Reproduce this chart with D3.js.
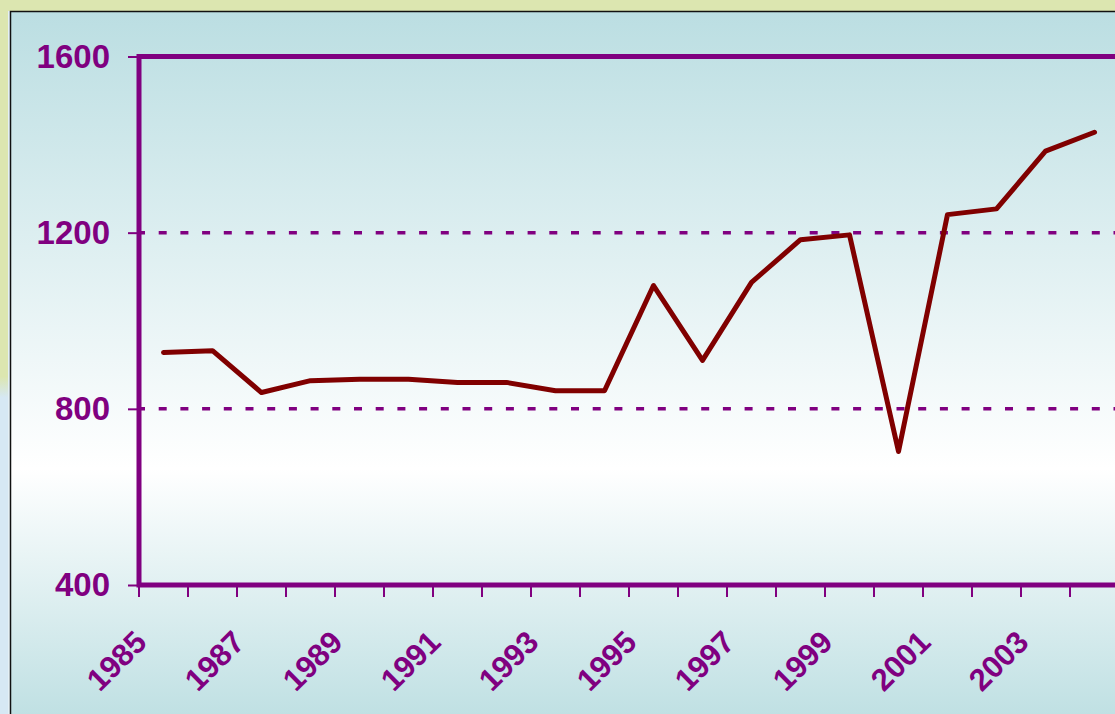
<!DOCTYPE html>
<html>
<head>
<meta charset="utf-8">
<script src="https://cdn.jsdelivr.net/npm/d3@7"></script>
<style>
  html, body { margin: 0; padding: 0; background: #dce6b0; overflow: hidden; }
  svg { display: block; }
  text { font-family: "Liberation Sans", Arial, sans-serif; font-weight: bold; fill: #800080; }
</style>
</head>
<body>
<div id="plot"></div>
<script>
// data
var years = ['1985','1986','1987','1988','1989','1990','1991','1992','1993','1994',
             '1995','1996','1997','1998','1999','2000','2001','2002','2003','2004'];
var values = [928, 932, 837, 864, 867, 867, 860, 860, 841, 841,
              1080, 910, 1087, 1184, 1195, 703, 1241, 1254, 1385, 1428];
var yTicks = [400, 800, 1200, 1600];
var gridValues = [800, 1200];
var xLabels = ['1985','1987','1989','1991','1993','1995','1997','1999','2001','2003'];

var W = 1115, H = 714;
var margin = {top: 56.5, left: 139};
var width = 980,
    height = 585 - margin.top;

var purple = '#800080';

var svg = d3.select('#plot').append('svg')
    .attr('width', W)
    .attr('height', H);

// slide background behind the chart
var defs = svg.append('defs');
var bg = defs.append('linearGradient')
    .attr('id', 'bg')
    .attr('x1', 0).attr('y1', 0).attr('x2', 0).attr('y2', 1);
bg.append('stop').attr('offset', '0%').attr('stop-color', '#bbdee2');
bg.append('stop').attr('offset', '64%').attr('stop-color', '#ffffff');
bg.append('stop').attr('offset', '100%').attr('stop-color', '#bddfe2');

var side = defs.append('linearGradient')
    .attr('id', 'side')
    .attr('x1', 0).attr('y1', 0).attr('x2', 0).attr('y2', 1);
side.append('stop').attr('offset', '0%').attr('stop-color', '#dce6b0');
side.append('stop').attr('offset', '52%').attr('stop-color', '#dce6b0');
side.append('stop').attr('offset', '55%').attr('stop-color', '#d6e8f4');
side.append('stop').attr('offset', '100%').attr('stop-color', '#d6e8f4');

svg.append('rect')
    .attr('x', 0).attr('y', 11).attr('width', 11).attr('height', H - 11)
    .attr('fill', 'url(#side)');
svg.append('rect')
    .attr('x', 8).attr('y', 11).attr('width', 2).attr('height', H - 11)
    .attr('fill', '#e4f0f6');
svg.append('rect')
    .attr('x', 10.5).attr('y', 11.5).attr('width', W).attr('height', H)
    .attr('fill', 'url(#bg)')
    .attr('stroke', '#111')
    .attr('stroke-width', 1.5);

// scales
var x = d3.scaleBand()
    .domain(years)
    .range([margin.left, margin.left + width]);

var y = d3.scaleLinear()
    .domain([400, 1600])
    .range([margin.top + height, margin.top]);

// dashed gridlines
svg.append('g').selectAll('line')
    .data(gridValues)
    .join('line')
    .attr('x1', margin.left - 2)
    .attr('x2', margin.left + width)
    .attr('y1', function(d) { return y(d); })
    .attr('y2', function(d) { return y(d); })
    .attr('stroke', purple)
    .attr('stroke-width', 3.5)
    .attr('stroke-dasharray', '8,13.7');

// y axis
var yAxis = d3.axisLeft(y)
    .tickValues(yTicks)
    .tickFormat(d3.format('d'))
    .tickSize(11)
    .tickPadding(18);

var gy = svg.append('g')
    .attr('transform', 'translate(' + margin.left + ',0)')
    .call(yAxis);
gy.select('.domain').remove();
gy.selectAll('line').attr('stroke', purple).attr('stroke-width', 2);
gy.selectAll('text')
    .attr('font-size', 33)
    .attr('fill', purple)
    .attr('font-family', '"Liberation Sans", Arial, sans-serif')
    .attr('font-weight', 'bold');

// x axis ticks sit on the category boundaries
var gx = svg.append('g');
gx.selectAll('line')
    .data(years.concat(['end']))
    .join('line')
    .attr('x1', function(d) { return d === 'end' ? x.range()[1] : x(d); })
    .attr('x2', function(d) { return d === 'end' ? x.range()[1] : x(d); })
    .attr('y1', y(400))
    .attr('y2', y(400) + 12)
    .attr('stroke', purple)
    .attr('stroke-width', 2);

gx.selectAll('text')
    .data(xLabels)
    .join('text')
    .attr('text-anchor', 'end')
    .attr('font-size', 31)
    .attr('transform', function(d) {
        var cx = x(d) + x.bandwidth() / 2 - 15;
        return 'translate(' + cx + ',' + (y(400) + 59) + ') rotate(-45)';
    })
    .text(function(d) { return d; });

// plot area border
svg.append('rect')
    .attr('x', margin.left)
    .attr('y', margin.top)
    .attr('width', width)
    .attr('height', height)
    .attr('fill', 'none')
    .attr('stroke', purple)
    .attr('stroke-width', 5);

// the series
var line = d3.line()
    .x(function(d, i) { return x(years[i]) + x.bandwidth() / 2; })
    .y(function(d) { return y(d); });

svg.append('path')
    .datum(values)
    .attr('d', line)
    .attr('fill', 'none')
    .attr('stroke', '#800000')
    .attr('stroke-width', 5)
    .attr('stroke-linejoin', 'round')
    .attr('stroke-linecap', 'round');
</script>
</body>
</html>
